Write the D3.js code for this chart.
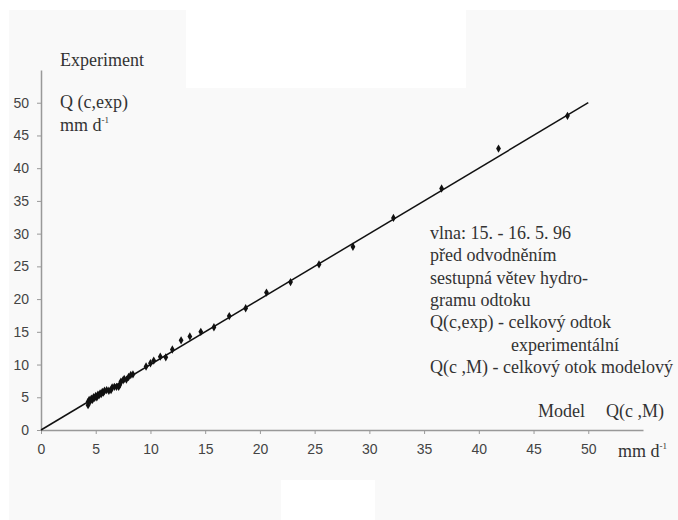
<!DOCTYPE html>
<html>
<head>
<meta charset="utf-8">
<script src="https://cdn.jsdelivr.net/npm/d3@7"></script>
<style>
  html, body { margin: 0; padding: 0; background: #ffffff; }
  svg { display: block; }
</style>
</head>
<body>
<div id="chart"></div>
<script>
// model value Q(c,M) vs experiment Q(c,exp), mm/d
const modelVals = [4.3, 4.3, 4.4, 4.5, 4.6, 4.7, 4.8, 4.9, 5.0, 5.1, 5.2, 5.3, 5.4, 5.5, 5.6, 5.7, 5.8, 6.0, 6.2, 6.4,
  6.5, 6.7, 6.9, 7.1, 7.2, 7.3, 7.5, 7.6, 7.8, 8.0, 8.2, 8.4, 9.6, 10.0, 10.3, 10.9, 11.4, 12.0, 12.8, 13.6,
  14.6, 15.8, 17.2, 18.7, 20.6, 22.8, 25.4, 28.5, 32.2, 36.6, 41.8, 48.1];
const expVals = [3.8, 4.3, 4.6, 4.4, 4.8, 4.6, 5.0, 4.9, 5.2, 5.0, 5.4, 5.3, 5.6, 5.5, 5.8, 5.7, 6.0, 6.1, 6.0, 6.1,
  6.5, 6.6, 6.6, 6.6, 6.9, 7.4, 7.6, 7.8, 7.7, 8.1, 8.4, 8.5, 9.7, 10.2, 10.6, 11.2, 11.1, 12.3, 13.7, 14.3,
  15.0, 15.7, 17.4, 18.6, 21.0, 22.6, 25.3, 28.0, 32.4, 36.9, 43.0, 48.0];
const fitLine = [[0, 0], [50, 50]];
const tickVals = [0, 5, 10, 15, 20, 25, 30, 35, 40, 45, 50];
const noteLines = [
  "vlna: 15. - 16. 5. 96",
  "před odvodněním",
  "sestupná větev hydro-",
  "gramu odtoku",
  "Q(c,exp) - celkový odtok",
  "experimentální",
  "Q(c ,M) - celkový otok modelový"
];

const width = 678, height = 520;
const serif = "'Liberation Serif', 'Times New Roman', serif";
const sans = "'Liberation Sans', Arial, sans-serif";

const svg = d3.select("#chart").append("svg")
  .attr("width", width)
  .attr("height", height);

// scanned page look: grey sheet with white patches
svg.append("rect").attr("x", 9).attr("y", 10).attr("width", width - 9).attr("height", height - 10).attr("fill", "#f9f9f9");
svg.append("rect").attr("x", 186).attr("y", 10).attr("width", 280).attr("height", 78).attr("fill", "#ffffff");
svg.append("rect").attr("x", 281).attr("y", 480).attr("width", 94).attr("height", 40).attr("fill", "#ffffff");

const x = d3.scaleLinear().domain([0, 55]).range([41, 643]);
const y = d3.scaleLinear().domain([0, 55]).range([430, 70]);

const xAxis = svg.append("g")
  .attr("transform", `translate(0,${y(0)})`)
  .call(d3.axisBottom(x).tickValues(tickVals).tickSize(4).tickPadding(10).tickSizeOuter(0));
const yAxis = svg.append("g")
  .attr("transform", `translate(${x(0)},0)`)
  .call(d3.axisLeft(y).tickValues(tickVals).tickSize(4).tickPadding(8).tickSizeOuter(0));

[xAxis, yAxis].forEach(g => {
  g.select(".domain").attr("stroke", "#999").attr("stroke-width", 1.5);
  g.selectAll(".tick line").attr("stroke", "#999");
  g.selectAll(".tick text").attr("fill", "#444").attr("font-family", sans).attr("font-size", 14);
});

// 1:1 line
svg.append("path")
  .datum(fitLine)
  .attr("d", d3.line().x(d => x(d[0])).y(d => y(d[1])))
  .attr("stroke", "#111")
  .attr("stroke-width", 1.5)
  .attr("fill", "none");

const pts = modelVals.map((v, i) => ({ m: v, e: expVals[i] }));
svg.selectAll("path.pt")
  .data(pts)
  .enter()
  .append("path")
  .attr("class", "pt")
  .attr("d", d3.symbol().type(d3.symbolDiamond).size(20))
  .attr("transform", d => `translate(${x(d.m)},${y(d.e)})`)
  .attr("fill", "#111");

// axis titles
const txt = (tx, ty, s, anchor) => svg.append("text")
  .attr("x", tx).attr("y", ty)
  .attr("text-anchor", anchor || "start")
  .attr("font-family", serif)
  .attr("font-size", 18)
  .attr("fill", "#333")
  .text(s);

txt(60, 66, "Experiment");
txt(60, 108, "Q (c,exp)");
const mm1 = txt(60, 131, "mm d");
mm1.append("tspan").attr("dy", -8).attr("font-size", 9).text("-1");

txt(538, 417, "Model");
txt(606, 417, "Q(c ,M)");
const mm2 = txt(618, 457, "mm d");
mm2.append("tspan").attr("dy", -8).attr("font-size", 9).text("-1");

svg.selectAll("text.note")
  .data(noteLines)
  .enter()
  .append("text")
  .attr("class", "note")
  .attr("x", (d, i) => i === 5 ? 511 : 430)
  .attr("y", (d, i) => 239 + i * 22.3)
  .attr("font-family", serif)
  .attr("font-size", 18)
  .attr("fill", "#333")
  .text(d => d);
</script>
</body>
</html>
